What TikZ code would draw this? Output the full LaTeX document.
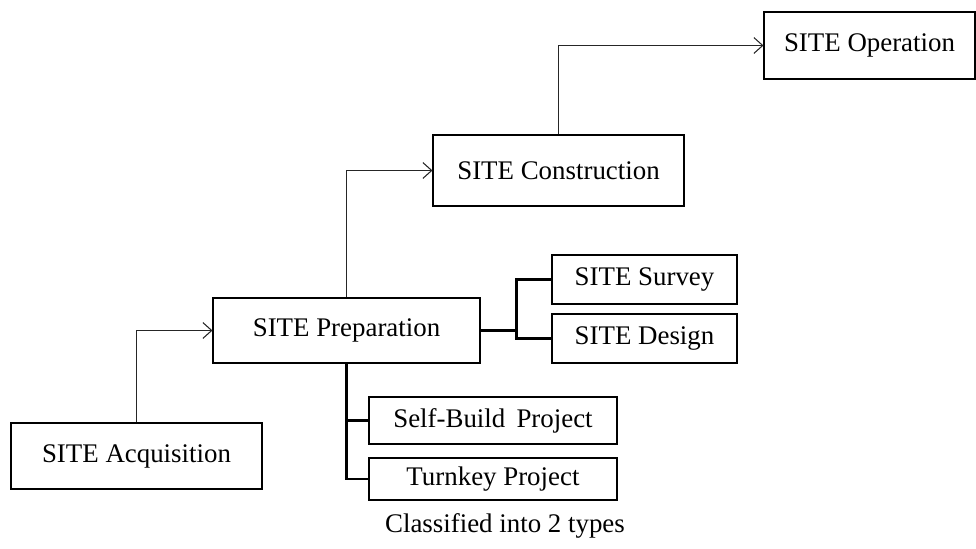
\documentclass[tikz,border=0pt]{standalone}
\usepackage{fontspec}
\setmainfont{Liberation Serif}
\usetikzlibrary{arrows.meta,positioning,calc}

\begin{document}
\begin{tikzpicture}[
  stagebox/.style={
    rectangle, draw=black, line width=0.6pt,
    font=\fontsize{15.3}{18}\selectfont,
    align=center, inner sep=0pt
  },
  subbox/.style={
    stagebox, minimum width=3.7cm, minimum height=0.98cm
  },
  typebox/.style={
    stagebox, minimum width=4.96cm
  },
  conn/.style={-{Straight Barb[length=5pt,width=9pt]}, line width=0.6pt, draw=black!85},
  brk/.style={line width=1.3pt, draw=black}
]
\useasboundingbox (0,0) rectangle (19.52,-10.98);

\node[stagebox, minimum width=5.02cm, minimum height=1.32cm] (acq)  at (2.73,-9.12)   {SITE Acquisition};
\node[stagebox, minimum width=5.34cm, minimum height=1.30cm] (prep) at (6.93,-6.61)   {SITE Preparation};
\node[stagebox, minimum width=5.02cm, minimum height=1.42cm] (cons) at (11.17,-3.41)  {SITE Construction};
\node[stagebox, minimum width=4.22cm, minimum height=1.34cm] (oper) at (17.39,-0.91)  {SITE Operation};

\node[subbox] (surv) at (12.89,-5.59) {SITE Survey};
\node[subbox] (desg) at (12.89,-6.77) {SITE Design};

\node[typebox, minimum height=0.94cm] (self) at (9.86,-8.41) {Self-Build\, Project};
\node[typebox, minimum height=0.84cm] (turn) at (9.86,-9.58) {Turnkey Project};

\node[font=\fontsize{15.3}{18}\selectfont] (cls) at (10.10,-10.52) {Classified into 2 types};

\draw[conn] (acq.north) |- (prep.west);
\draw[conn] (prep.north) |- (cons.west);
\draw[conn] (cons.north) |- (oper.west);

\draw[brk] (prep.east) -- ++(0.72,0) coordinate (fork);
\draw[brk] (fork) |- (surv.west);
\draw[brk] (fork) |- (desg.west);

\draw[brk] (prep.south) |- (self.west);
\draw[brk] (prep.south) |- (turn.west);
\end{tikzpicture}
\end{document}
